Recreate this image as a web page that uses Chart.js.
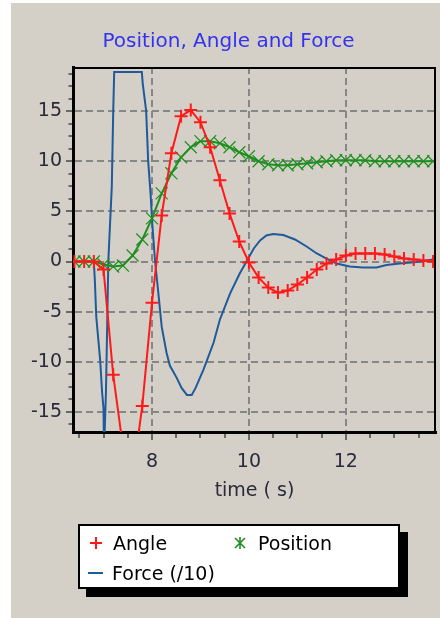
<!DOCTYPE html>
<html>
<head>
<meta charset="utf-8">
<script src="https://cdn.jsdelivr.net/npm/chart.js@4.4.1/dist/chart.umd.min.js"></script>
<style>
  html, body { margin: 0; padding: 0; background: #fff; }
  #wrap { position: relative; width: 440px; height: 618px; }
  #legend {
    position: absolute; left: 78px; top: 524px; width: 318px; height: 61px;
    background: #fff; border: 2px solid #000; box-shadow: 8px 8px 0 #000;
    font: 19px "DejaVu Sans", sans-serif; color: #000;
  }
  #legend .txt { position: absolute; white-space: nowrap; line-height: 22px; }
  #legend svg { position: absolute; }
</style>
</head>
<body>
<div id="wrap">
  <canvas id="chartPAF" width="440" height="618"></canvas>
  <div id="legend">
    <svg style="left:9px;top:10px" width="14" height="14"><path d="M7 1V13M1 7H13" stroke="#ff1a1a" stroke-width="2"/></svg>
    <span class="txt" style="left:33px;top:6px">Angle</span>
    <svg style="left:153px;top:10px" width="14" height="14"><path d="M2 2L12 12M12 2L2 12M7 1V13" stroke="#1f8f1f" stroke-width="1.6"/></svg>
    <span class="txt" style="left:178px;top:6px">Position</span>
    <svg style="left:8px;top:45px" width="15" height="4"><path d="M0 2H15" stroke="#1f5a9a" stroke-width="2"/></svg>
    <span class="txt" style="left:32px;top:36px">Force (/10)</span>
  </div>
</div>
<script>
// sample times for angle and position (markers every 0.2 s)
const stepTime = [6.4, 6.6, 6.8, 7.0, 7.2, 7.4, 7.6, 7.8, 8.0, 8.2, 8.4, 8.6, 8.8, 9.0, 9.2, 9.4, 9.6, 9.8, 10.0,
  10.2, 10.4, 10.6, 10.8, 11.0, 11.2, 11.4, 11.6, 11.8, 12.0, 12.2, 12.4, 12.6, 12.8, 13.0, 13.2, 13.4, 13.6, 13.8];
const angle = [0, 0, 0, -0.8, -11.3, -18.5, -21.5, -14.4, -4.1, 4.6, 10.8, 14.5, 15.1, 13.9, 11.4, 8.1, 4.8, 2.0, -0.1,
  -1.6, -2.6, -3.1, -2.9, -2.3, -1.6, -0.8, -0.2, 0.2, 0.6, 0.8, 0.8, 0.8, 0.7, 0.5, 0.3, 0.2, 0.1, 0.0];
const position = [0, 0, 0, -0.3, -0.5, -0.4, 0.6, 2.2, 4.3, 6.8, 8.8, 10.4, 11.4, 12.0, 12.0, 11.8, 11.4, 10.9, 10.5,
  10.0, 9.7, 9.6, 9.6, 9.7, 9.8, 9.9, 10.0, 10.1, 10.1, 10.1, 10.1, 10.0, 10.0, 10.0, 10.0, 10.0, 10.0, 10.0];

// force (/10), traced line
const forceTime = [6.37, 6.80, 6.82, 6.85, 6.93, 6.97, 7.00, 7.01, 7.03, 7.05, 7.07, 7.10, 7.17, 7.20, 7.22,
  7.79, 7.81, 7.88, 7.92, 7.97, 8.01, 8.06, 8.13, 8.20, 8.30, 8.37, 8.44, 8.51, 8.61, 8.72, 8.82, 8.90, 9.06,
  9.27, 9.40, 9.61, 9.81, 9.95, 10.10, 10.23, 10.36, 10.50, 10.71, 10.95, 11.19, 11.40, 11.60, 11.81, 12.08,
  12.35, 12.63, 12.84, 13.11, 13.46, 13.80, 13.86];
const forceValue = [0, 0, -1.8, -5.5, -9.8, -13.0, -14.7, -19.0, -19.0, -13.0, -7.8, 0.2, 7.4, 15.0, 18.9,
  18.9, 17.7, 15.0, 10.1, 6.8, 3.5, 0.2, -3.1, -6.5, -9.1, -10.4, -11.0, -11.6, -12.6, -13.3, -13.3, -12.6, -10.8,
  -8.1, -5.8, -3.2, -1.2, 0.0, 1.3, 2.1, 2.6, 2.75, 2.65, 2.2, 1.5, 0.8, 0.3, -0.2, -0.5,
  -0.6, -0.6, -0.35, -0.2, -0.05, 0.2, 0.2];

const xMin = 6.37, xMax = 13.86;
const yMin = -17, yMax = 19.4;

Chart.defaults.font.family = '"DejaVu Sans", sans-serif';

const isMajorX = v => Math.abs(v % 2) < 1e-6;
const isMajorY = v => Math.abs(v % 5) < 1e-6;

const panel = {
  id: 'panel',
  beforeDraw(chart) {
    const c = chart.ctx;
    c.save();
    c.fillStyle = '#ffffff';
    c.fillRect(0, 0, chart.width, chart.height);
    c.fillStyle = '#d4d0c8';
    c.fillRect(11, 3, chart.width - 11, chart.height - 3);
    c.restore();
  }
};

const frame = {
  id: 'frame',
  afterDraw(chart) {
    const a = chart.chartArea;
    const c = chart.ctx;
    c.save();
    c.strokeStyle = '#000';
    c.lineWidth = 2;
    c.beginPath();
    c.moveTo(a.left, a.top + 1);
    c.lineTo(a.right - 1, a.top + 1);
    c.lineTo(a.right - 1, a.bottom);
    c.stroke();
    c.restore();
  }
};

const ctx = document.getElementById('chartPAF').getContext('2d');
new Chart(ctx, {
  type: 'line',
  data: {
    datasets: [
      {
        label: 'Angle',
        data: stepTime.map((t, i) => ({x: t, y: angle[i]})),
        borderColor: '#ff1a1a',
        borderWidth: 2,
        pointStyle: 'cross',
        pointRadius: 6.5,
        pointBorderColor: '#ff1a1a',
        pointBorderWidth: 2,
        tension: 0
      },
      {
        label: 'Position',
        data: stepTime.map((t, i) => ({x: t, y: position[i]})),
        borderColor: '#1f8f1f',
        borderWidth: 2,
        pointStyle: 'crossRot',
        pointRadius: 8.5,
        pointBorderColor: '#1f8f1f',
        pointBorderWidth: 1.2,
        tension: 0
      },
      {
        label: 'Force (/10)',
        data: forceTime.map((t, i) => ({x: t, y: forceValue[i]})),
        borderColor: '#1f5a9a',
        borderWidth: 2,
        pointRadius: 0,
        tension: 0
      }
    ]
  },
  options: {
    responsive: false,
    animation: false,
    events: [],
    layout: {autoPadding: false, padding: {left: 21, right: 4, top: 0, bottom: 106}},
    plugins: {
      legend: {display: false},
      tooltip: {enabled: false},
      title: {
        display: true,
        text: 'Position, Angle and Force',
        color: '#3333ee',
        font: {size: 20, weight: 'normal'},
        padding: {top: 30, bottom: 13}
      }
    },
    scales: {
      x: {
        type: 'linear',
        min: xMin,
        max: xMax,
        afterFit: s => { s.height = 80; },
        border: {display: true, color: '#000', width: 3, dash: [7, 4]},
        grid: {
          color: c => (c.tick && isMajorX(c.tick.value)) ? '#868686' : 'rgba(0,0,0,0)',
          lineWidth: 2,
          tickLength: 8,
          tickWidth: 1,
          tickColor: '#000',
          tickBorderDash: c => (c.tick && isMajorX(c.tick.value)) ? [] : [4, 40]
        },
        ticks: {
          stepSize: 0.5,
          includeBounds: false,
          autoSkip: false,
          maxRotation: 0,
          padding: 11,
          color: '#2a2a3a',
          font: {size: 19},
          callback: v => isMajorX(v) ? String(v) : ''
        },
        title: {
          display: true,
          text: 'time ( s)',
          color: '#2a2a3a',
          font: {size: 19},
          padding: {top: 4, bottom: 10}
        }
      },
      y: {
        type: 'linear',
        min: yMin,
        max: yMax,
        afterFit: s => { s.width = 52; },
        border: {display: true, color: '#000', width: 3, dash: [7, 4]},
        grid: {
          color: c => (c.tick && isMajorY(c.tick.value)) ? '#868686' : 'rgba(0,0,0,0)',
          lineWidth: 2,
          tickLength: 7,
          tickWidth: 1,
          tickColor: '#000',
          tickBorderDash: c => (c.tick && isMajorY(c.tick.value)) ? [] : [4, 40],
          tickBorderDashOffset: c => (c.tick && isMajorY(c.tick.value)) ? 0 : 41.5
        },
        ticks: {
          stepSize: 1.25,
          includeBounds: false,
          autoSkip: false,
          padding: 4,
          color: '#2a2a3a',
          font: {size: 19},
          callback: v => isMajorY(v) ? String(v) : ''
        }
      }
    }
  },
  plugins: [panel, frame]
});
</script>
</body>
</html>
